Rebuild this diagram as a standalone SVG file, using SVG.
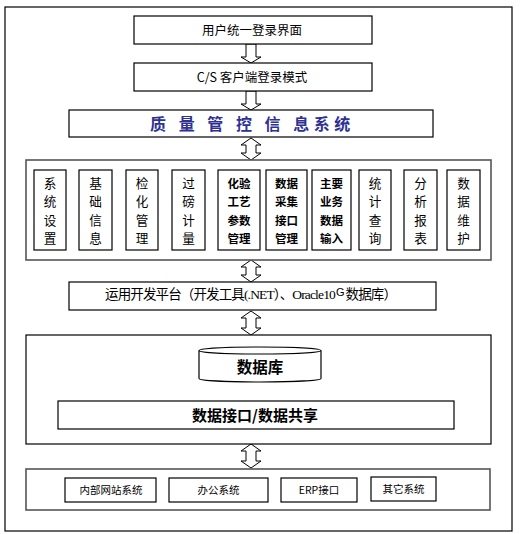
<svg xmlns="http://www.w3.org/2000/svg" width="520" height="534" viewBox="0 0 520 534">
<style>
.bx{fill:#fff;stroke:#000;stroke-width:1.2}
.grp{fill:#fff;stroke:#555;stroke-width:1.6}
.ar{fill:#fff;stroke:#000;stroke-width:1}
.t{font-family:"Noto Sans CJK SC","Liberation Sans",sans-serif;fill:#000;text-anchor:middle}
.m{font-size:12.6px}
.s{font-size:11.5px;font-weight:bold}
.b{font-size:10.5px}
</style>
<rect x="0" y="0" width="520" height="534" fill="#fff"/>
<rect x="5" y="7" width="507" height="524" fill="#fff" stroke="#000" stroke-width="1.2"/>

<g id="connectors">
<path class="ar" d="M246,44 H256 V57 H261 L251,63 L241,57 H246 Z"/>
<path class="ar" d="M246,91 H256 V104 H261 L251,110 L241,104 H246 Z"/>
<path class="ar" d="M251,138 L261,145 H256 V153 H261 L251,160 L241,153 H246 V145 H241 Z"/>
<path class="ar" d="M251,260 L261,267 H256 V275 H261 L251,282 L241,275 H246 V267 H241 Z"/>
<path class="ar" d="M251,311 L261,318 H256 V328 H261 L251,335 L241,328 H246 V318 H241 Z"/>
<path class="ar" d="M251,444 L261,451 H256 V461 H261 L251,468 L241,461 H246 V451 H241 Z"/>
</g>

<g id="login">
<rect class="bx" x="134" y="16" width="238" height="28"/>
<text class="t" x="252" y="34.5" font-size="12.5">用户统一登录界面</text>
</g>
<g id="cs">
<rect class="bx" x="134" y="63" width="238" height="28"/>
<text class="t" x="252" y="81.5" font-size="12.5">C/S 客户端登录模式</text>
</g>
<g id="qms">
<rect class="bx" x="69" y="110" width="364" height="27"/>
<text x="150" y="129.5" font-family="'Noto Sans CJK SC',sans-serif" font-size="16" font-weight="bold" fill="#2E3192" letter-spacing="4.5">质 量 管 控 信 息系统</text>
</g>

<g id="modules">
<rect class="grp" x="26" y="160" width="465" height="100"/>
<g id="m1"><rect class="bx" x="34" y="170" width="32" height="80"/>
<text class="t m"><tspan x="50" y="188">系</tspan><tspan x="50" y="206.3">统</tspan><tspan x="50" y="224.6">设</tspan><tspan x="50" y="243">置</tspan></text></g>
<g id="m2"><rect class="bx" x="79" y="170" width="33" height="80"/>
<text class="t m"><tspan x="95.5" y="188">基</tspan><tspan x="95.5" y="206.3">础</tspan><tspan x="95.5" y="224.6">信</tspan><tspan x="95.5" y="243">息</tspan></text></g>
<g id="m3"><rect class="bx" x="126" y="170" width="32" height="80"/>
<text class="t m"><tspan x="142" y="188">检</tspan><tspan x="142" y="206.3">化</tspan><tspan x="142" y="224.6">管</tspan><tspan x="142" y="243">理</tspan></text></g>
<g id="m4"><rect class="bx" x="172" y="170" width="33" height="80"/>
<text class="t m"><tspan x="188.5" y="188">过</tspan><tspan x="188.5" y="206.3">磅</tspan><tspan x="188.5" y="224.6">计</tspan><tspan x="188.5" y="243">量</tspan></text></g>
<g id="m5"><rect class="bx" x="218" y="170" width="42" height="80"/>
<text class="t s"><tspan x="239" y="187.5">化验</tspan><tspan x="239" y="206">工艺</tspan><tspan x="239" y="224.5">参数</tspan><tspan x="239" y="243">管理</tspan></text></g>
<g id="m6"><rect class="bx" x="266" y="170" width="41" height="80"/>
<text class="t s"><tspan x="286.5" y="187.5">数据</tspan><tspan x="286.5" y="206">采集</tspan><tspan x="286.5" y="224.5">接口</tspan><tspan x="286.5" y="243">管理</tspan></text></g>
<g id="m7"><rect class="bx" x="312" y="170" width="39" height="80"/>
<text class="t s"><tspan x="331.5" y="187.5">主要</tspan><tspan x="331.5" y="206">业务</tspan><tspan x="331.5" y="224.5">数据</tspan><tspan x="331.5" y="243">输入</tspan></text></g>
<g id="m8"><rect class="bx" x="359" y="170" width="32" height="80"/>
<text class="t m"><tspan x="375" y="188">统</tspan><tspan x="375" y="206.3">计</tspan><tspan x="375" y="224.6">查</tspan><tspan x="375" y="243">询</tspan></text></g>
<g id="m9"><rect class="bx" x="404" y="170" width="33" height="80"/>
<text class="t m"><tspan x="420.5" y="188">分</tspan><tspan x="420.5" y="206.3">析</tspan><tspan x="420.5" y="224.6">报</tspan><tspan x="420.5" y="243">表</tspan></text></g>
<g id="m10"><rect class="bx" x="447" y="170" width="33" height="80"/>
<text class="t m"><tspan x="463.5" y="188">数</tspan><tspan x="463.5" y="206.3">据</tspan><tspan x="463.5" y="224.6">维</tspan><tspan x="463.5" y="243">护</tspan></text></g>
</g>

<g id="platform">
<rect class="bx" x="69" y="282" width="367" height="28"/>
<text x="105" y="298.5" font-family="'Liberation Serif','Noto Sans CJK SC',serif" font-size="13.5" fill="#000" textLength="292" lengthAdjust="spacing">运用开发平台（开发工具(.NET）、Oracle10<tspan font-family="'Liberation Sans',sans-serif" font-size="11" dx="1" dy="-3">G</tspan><tspan dx="2" dy="3">数据库）</tspan></text>
</g>

<g id="dbzone">
<rect class="bx" x="26" y="335" width="465" height="109"/>
<g id="db">
<path d="M199,350.5 V378.5 A61,3.5 0 0 0 321,378.5 V350.5" fill="#fff" stroke="#000" stroke-width="1.2"/>
<ellipse cx="260" cy="350.5" rx="61" ry="3.5" fill="#fff" stroke="#000" stroke-width="1.2"/>
<text class="t" x="260" y="372.5" font-size="15.5" font-weight="bold">数据库</text>
</g>
<g id="share">
<rect class="bx" x="58" y="401" width="396" height="28"/>
<text class="t" x="255" y="421" font-size="15" font-weight="bold">数据接口/数据共享</text>
</g>
</g>

<g id="external">
<rect class="grp" x="26" y="469" width="464" height="41"/>
<g id="e1"><rect class="bx" x="65" y="478" width="91" height="24"/><text class="t b" x="111" y="494">内部网站系统</text></g>
<g id="e2"><rect class="bx" x="169" y="478" width="99" height="24"/><text class="t b" x="218.5" y="494">办公系统</text></g>
<g id="e3"><rect class="bx" x="281" y="478" width="76" height="24"/><text class="t b" x="319" y="494">ERP接口</text></g>
<g id="e4"><rect class="bx" x="371" y="477" width="65" height="24"/><text class="t b" x="403.5" y="493">其它系统</text></g>
</g>
</svg>
